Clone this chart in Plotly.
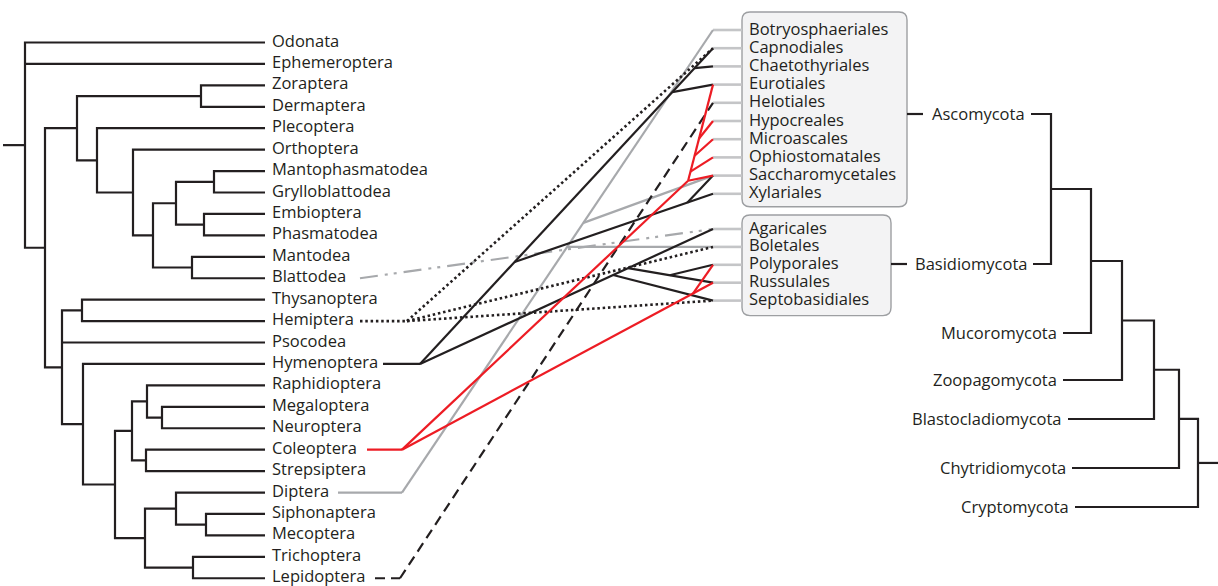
import plotly.graph_objects as go

# ---------------- data ----------------
insects = ["Odonata", "Ephemeroptera", "Zoraptera", "Dermaptera", "Plecoptera",
           "Orthoptera", "Mantophasmatodea", "Grylloblattodea", "Embioptera",
           "Phasmatodea", "Mantodea", "Blattodea", "Thysanoptera", "Hemiptera",
           "Psocodea", "Hymenoptera", "Raphidioptera", "Megaloptera", "Neuroptera",
           "Coleoptera", "Strepsiptera", "Diptera", "Siphonaptera", "Mecoptera",
           "Trichoptera", "Lepidoptera"]

ascomycete_orders = ["Botryosphaeriales", "Capnodiales", "Chaetothyriales", "Eurotiales",
                     "Helotiales", "Hypocreales", "Microascales", "Ophiostomatales",
                     "Saccharomycetales", "Xylariales"]
basidiomycete_orders = ["Agaricales", "Boletales", "Polyporales", "Russulales",
                        "Septobasidiales"]

phyla = ["Ascomycota", "Basidiomycota", "Mucoromycota", "Zoopagomycota",
         "Blastocladiomycota", "Chytridiomycota", "Cryptomycota"]

# insect phylogeny: (node depth, [children]); leaves are names
insect_tree = (25, ["Odonata", "Ephemeroptera",
    (45, [
        (77, [(201, ["Zoraptera", "Dermaptera"]),
              (97, ["Plecoptera",
                    (133, ["Orthoptera",
                           (153, [(176, [(214, ["Mantophasmatodea", "Grylloblattodea"]),
                                         (204, ["Embioptera", "Phasmatodea"])]),
                                  (192, ["Mantodea", "Blattodea"])])])])]),
        (62, [(82, ["Thysanoptera", "Hemiptera"]),
              "Psocodea",
              (83, ["Hymenoptera",
                    (115, [(132, [(147, ["Raphidioptera", (162, ["Megaloptera", "Neuroptera"])]),
                                  (146, ["Coleoptera", "Strepsiptera"])]),
                           (145, [(176, ["Diptera", (206, ["Siphonaptera", "Mecoptera"])]),
                                  (193, ["Trichoptera", "Lepidoptera"])])])])])])])

# fungal phylogeny (mirrored, depth grows to the right)
phylum_tree = (1198, [(1179, [(1154, [(1122, [(1091, [(1051, ["Ascomycota", "Basidiomycota"]),
                                                      "Mucoromycota"]),
                                              "Zoopagomycota"]),
                                      "Blastocladiomycota"]),
                              "Chytridiomycota"]),
                      "Cryptomycota"])

# insect order -> fungal orders associated
associations = {
    "Blattodea": ["Agaricales"],
    "Diptera": ["Botryosphaeriales", "Saccharomycetales", "Boletales"],
    "Hymenoptera": ["Capnodiales", "Chaetothyriales", "Eurotiales", "Xylariales",
                    "Saccharomycetales", "Agaricales", "Septobasidiales", "Russulales",
                    "Polyporales"],
    "Hemiptera": ["Capnodiales", "Boletales", "Septobasidiales"],
    "Lepidoptera": ["Helotiales"],
    "Coleoptera": ["Eurotiales", "Hypocreales", "Microascales", "Ophiostomatales",
                   "Saccharomycetales", "Russulales", "Polyporales"],
}

# ---------------- layout / styling ----------------
W, H = 1218, 586
INK = "#231f20"
RED = "#ed1c24"
GRAY = "#a7a9ac"
STUB = "#c4c5c7"
FONT = "Open Sans"
FS = 16.5

INSECT_Y0, INSECT_DY = 42.5, 21.43
LEAF_X, ROOT_STUB_X, INSECT_LABEL_X = 265, 3, 271
ASC_Y0, ASC_DY = 30.0, 18.2
BAS_Y0, BAS_DY = 229.0, 17.9
FUNGUS_X, BOX_LEFT, FUNGUS_LABEL_X = 713, 742, 748
ASC_BOX_RIGHT, BAS_BOX_RIGHT = 907, 891
phylum_y = [114, 264, 333, 380, 419, 468, 507]
phylum_tip_x = [1031, 1033, 1063, 1063, 1068, 1072, 1075]
phylum_stub = {"Ascomycota": (ASC_BOX_RIGHT, 923), "Basidiomycota": (BAS_BOX_RIGHT, 907)}

insect_y = {n: INSECT_Y0 + i * INSECT_DY for i, n in enumerate(insects)}
fungus_y = {n: ASC_Y0 + i * ASC_DY for i, n in enumerate(ascomycete_orders)}
fungus_y.update({n: BAS_Y0 + i * BAS_DY for i, n in enumerate(basidiomycete_orders)})

# link geometry: start of connector after label, hub, junctions (from, toward, fraction), edges
link_geometry = {
    "Blattodea": dict(start=360, hub=360, junctions={},
                      edges=[("hub", "Agaricales")]),
    "Diptera": dict(start=338, hub=402,
                    junctions={"d1": ("hub", "Botryosphaeriales", 0.583),
                               "d2": ("hub", "Botryosphaeriales", 0.531)},
                    edges=[("hub", "Botryosphaeriales"), ("d1", "Saccharomycetales"),
                           ("d2", "Boletales")]),
    "Hymenoptera": dict(start=383, hub=420,
                        junctions={"a1": ("hub", "Capnodiales", 0.861),
                                   "a2": ("hub", "Capnodiales", 0.937),
                                   "a3": ("hub", "Capnodiales", 0.323),
                                   "a4": ("a3", "Xylariales", 0.87),
                                   "b1": ("hub", "Agaricales", 0.659),
                                   "b2": ("hub", "Agaricales", 0.71),
                                   "b3": ("b2", "Russulales", 0.49)},
                        edges=[("hub", "Capnodiales"), ("a1", "Eurotiales"),
                               ("a2", "Chaetothyriales"), ("a3", "Xylariales"),
                               ("a4", "Saccharomycetales"), ("hub", "Agaricales"),
                               ("b1", "Septobasidiales"), ("b2", "Russulales"),
                               ("b3", "Polyporales")]),
    "Hemiptera": dict(start=360, hub=407, junctions={},
                      edges=[("hub", "Capnodiales"), ("hub", "Boletales"),
                             ("hub", "Septobasidiales")]),
    "Lepidoptera": dict(start=375, hub=400, junctions={},
                        edges=[("hub", "Helotiales")]),
    "Coleoptera": dict(start=367, hub=402,
                       junctions={"k": ("hub", "Ophiostomatales", 0.92),
                                  "k1": ("k", "Eurotiales", 0.095),
                                  "k2": ("k", "Eurotiales", 0.26),
                                  "k3": ("k", "Eurotiales", 0.44),
                                  "r": ("hub", "Russulales", 0.936)},
                       edges=[("hub", "k"), ("k", "Saccharomycetales"), ("k", "Eurotiales"),
                              ("k1", "Ophiostomatales"), ("k2", "Microascales"),
                              ("k3", "Hypocreales"), ("hub", "Russulales"),
                              ("r", "Polyporales")]),
}
link_style = {
    "Blattodea": dict(color=GRAY, width=2.2, dash="18px,7px,3px,6px,3px,7px"),
    "Diptera": dict(color=GRAY, width=2.2, dash="solid"),
    "Hymenoptera": dict(color=INK, width=2.2, dash="solid"),
    "Hemiptera": dict(color=INK, width=2.6, dash="2.5px,2.8px"),
    "Lepidoptera": dict(color=INK, width=2.2, dash="10px,6px"),
    "Coleoptera": dict(color=RED, width=2.2, dash="solid"),
}

fig = go.Figure()


def add_lines(xs, ys, color, width, dash="solid"):
    fig.add_trace(go.Scatter(x=xs, y=ys, mode="lines", hoverinfo="skip",
                             line=dict(color=color, width=width, dash=dash)))


# ---- left tree ----
tx, ty = [], []


def draw_left(node):
    if isinstance(node, str):
        return LEAF_X, insect_y[node]
    x, children = node
    pos = [draw_left(c) for c in children]
    (fx, fy), (lx, ly) = pos[0], pos[-1]
    tx.extend([fx, x, x, lx, None]); ty.extend([fy, fy, ly, ly, None])
    for cx, cy in pos[1:-1]:
        tx.extend([x, cx, None]); ty.extend([cy, cy, None])
    return x, (fy + ly) / 2


rx, ry = draw_left(insect_tree)
tx.extend([ROOT_STUB_X, rx, None]); ty.extend([ry, ry, None])

# ---- right tree ----
p_y = dict(zip(phyla, phylum_y))
p_tip = dict(zip(phyla, phylum_tip_x))


def draw_right(node):
    if isinstance(node, str):
        return p_tip[node], p_y[node]
    x, children = node
    pos = [draw_right(c) for c in children]
    (fx, fy), (lx, ly) = pos[0], pos[-1]
    tx.extend([fx, x, x, lx, None]); ty.extend([fy, fy, ly, ly, None])
    for cx, cy in pos[1:-1]:
        tx.extend([x, cx, None]); ty.extend([cy, cy, None])
    return x, (fy + ly) / 2


qx, qy = draw_right(phylum_tree)
tx.extend([qx, W, None]); ty.extend([qy, qy, None])
for name, (a, b) in phylum_stub.items():
    tx.extend([a, b, None]); ty.extend([p_y[name], p_y[name], None])
add_lines(tx, ty, INK, 2.2)

# ---- fungal stubs ----
sx, sy = [], []
for n, yv in fungus_y.items():
    sx.extend([FUNGUS_X, BOX_LEFT, None]); sy.extend([yv, yv, None])
add_lines(sx, sy, STUB, 2.6)

# ---- association links ----
for insect, geo in link_geometry.items():
    iy = insect_y[insect]
    pts = {"hub": (geo["hub"], iy)}
    for f in associations[insect]:
        pts[f] = (FUNGUS_X, fungus_y[f])

    def point(name):
        if name in pts:
            return pts[name]
        if name in fungus_y:
            return (FUNGUS_X, fungus_y[name])
        a, b, t = geo["junctions"][name]
        pa, pb = point(a), point(b)
        p = (pa[0] + (pb[0] - pa[0]) * t, pa[1] + (pb[1] - pa[1]) * t)
        pts[name] = p
        return p

    lx, ly = [], []
    if geo["start"] < geo["hub"]:
        lx.extend([geo["start"], geo["hub"], None]); ly.extend([iy, iy, None])
    for a, b in geo["edges"]:
        pa, pb = point(a), point(b)
        lx.extend([pa[0], pb[0], None]); ly.extend([pa[1], pb[1], None])
    st = link_style[insect]
    add_lines(lx, ly, st["color"], st["width"], st["dash"])

# ---- boxes ----
def rounded(x0, y0, x1, y1, r=8):
    return (f"M{x0+r},{y0} L{x1-r},{y0} Q{x1},{y0} {x1},{y0+r} L{x1},{y1-r} "
            f"Q{x1},{y1} {x1-r},{y1} L{x0+r},{y1} Q{x0},{y1} {x0},{y1-r} "
            f"L{x0},{y0+r} Q{x0},{y0} {x0+r},{y0} Z")


asc_ys = [fungus_y[n] for n in ascomycete_orders]
bas_ys = [fungus_y[n] for n in basidiomycete_orders]
shapes = [
    dict(type="path", path=rounded(BOX_LEFT, asc_ys[0] - 18, ASC_BOX_RIGHT, asc_ys[-1] + 13),
         xref="x", yref="y", line=dict(color="#9d9fa2", width=1.4), fillcolor="#f3f3f4",
         layer="below"),
    dict(type="path", path=rounded(BOX_LEFT, bas_ys[0] - 14, BAS_BOX_RIGHT, bas_ys[-1] + 15),
         xref="x", yref="y", line=dict(color="#9d9fa2", width=1.4), fillcolor="#f3f3f4",
         layer="below"),
]

# ---- labels ----
ann = []
for n in insects:
    ann.append(dict(x=INSECT_LABEL_X, y=insect_y[n] - 2.5, text=n, xanchor="left", yanchor="middle"))
for n, yv in fungus_y.items():
    ann.append(dict(x=FUNGUS_LABEL_X, y=yv - 2, text=n, xanchor="left", yanchor="middle"))
for n in phyla:
    ann.append(dict(x=p_tip[n] - 5, y=p_y[n] - 1, text=n, xanchor="right", yanchor="middle"))
for a in ann:
    a.update(xref="x", yref="y", showarrow=False, borderpad=0,
             font=dict(family=FONT, size=FS, color=INK))

fig.update_layout(
    width=W, height=H, autosize=False, showlegend=False,
    margin=dict(l=0, r=0, t=0, b=0, pad=0),
    paper_bgcolor="white", plot_bgcolor="white",
    xaxis=dict(range=[0, W], visible=False, fixedrange=True),
    yaxis=dict(range=[H, 0], visible=False, fixedrange=True),
    shapes=shapes, annotations=ann,
)
fig.write_html("out.html", config={"displayModeBar": False},
               post_script="document.body.style.margin='0';document.body.style.overflow='hidden';")
